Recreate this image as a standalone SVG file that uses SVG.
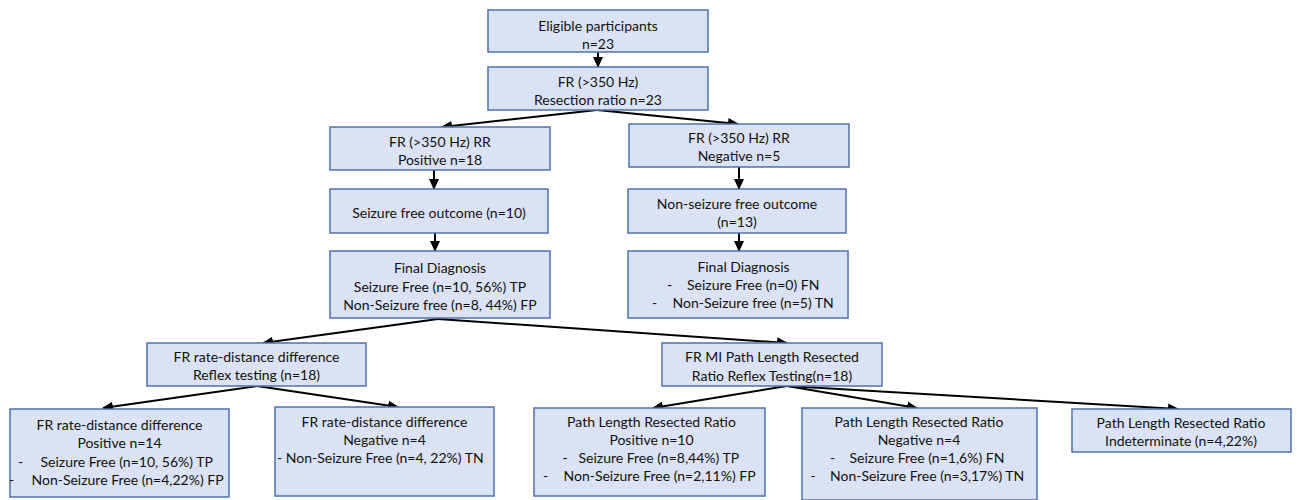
<svg xmlns="http://www.w3.org/2000/svg" width="1297" height="500" viewBox="0 0 1297 500">
<style>
.box{fill:#dae3f3;stroke:#4f70ad;stroke-width:1.5}
text{font-family:Lato,"Open Sans","Liberation Sans",sans-serif;font-size:14px;fill:#111;dominant-baseline:central}
.c{text-anchor:middle}
.con{stroke:#000;stroke-width:2;fill:none;marker-end:url(#ah)}
</style>
<defs>
<marker id="ah" markerUnits="userSpaceOnUse" markerWidth="11" markerHeight="10" refX="10" refY="5" orient="auto">
<path d="M0,0 L11,5 L0,10 z" fill="#000"/>
</marker>
</defs>
<rect width="1297" height="500" fill="#fff"/>
<g id="connectors">
<line class="con" x1="598" y1="52" x2="598" y2="67"/>
<line class="con" x1="597" y1="110" x2="442" y2="127"/>
<line class="con" x1="597" y1="110" x2="738" y2="124"/>
<line class="con" x1="434" y1="170" x2="434" y2="189"/>
<line class="con" x1="739" y1="167" x2="739" y2="189"/>
<line class="con" x1="435" y1="233" x2="435" y2="251"/>
<line class="con" x1="739" y1="233" x2="739" y2="251"/>
<line class="con" x1="438" y1="319" x2="263" y2="343"/>
<line class="con" x1="438" y1="319" x2="787" y2="343"/>
<line class="con" x1="257" y1="386" x2="103" y2="408"/>
<line class="con" x1="257" y1="386" x2="398" y2="407"/>
<line class="con" x1="787" y1="386" x2="653" y2="408"/>
<line class="con" x1="787" y1="386" x2="917" y2="408"/>
<line class="con" x1="787" y1="386" x2="1178" y2="409"/>
</g>
<g id="n1"><rect class="box" x="488" y="10" width="220" height="42"/>
<text class="c" x="598" y="25">Eligible participants</text><text class="c" x="598" y="43">n=23</text></g>
<g id="n2"><rect class="box" x="488" y="67" width="220" height="43"/>
<text class="c" x="598" y="81.5">FR (&gt;350 Hz)</text><text class="c" x="598" y="99.5">Resection ratio n=23</text></g>
<g id="n3"><rect class="box" x="330" y="127" width="220" height="43"/>
<text class="c" x="440" y="141.5">FR (&gt;350 Hz) RR</text><text class="c" x="440" y="159">Positive n=18</text></g>
<g id="n4"><rect class="box" x="629" y="124" width="220" height="43"/>
<text class="c" x="739" y="137">FR (&gt;350 Hz) RR</text><text class="c" x="739" y="155">Negative n=5</text></g>
<g id="n5"><rect class="box" x="330" y="189" width="218" height="44"/>
<text class="c" x="439" y="212">Seizure free outcome (n=10)</text></g>
<g id="n6"><rect class="box" x="628" y="189" width="218" height="44"/>
<text class="c" x="737" y="203">Non-seizure free outcome</text><text class="c" x="737" y="221">(n=13)</text></g>
<g id="n7"><rect class="box" x="330" y="251" width="220" height="67"/>
<text class="c" x="440" y="267">Final Diagnosis</text><text class="c" x="440" y="286">Seizure Free (n=10, 56%) TP</text><text class="c" x="440" y="304">Non-Seizure free (n=8, 44%) FP</text></g>
<g id="n8"><rect class="box" x="628" y="251" width="220" height="67"/>
<text class="c" x="743.5" y="266">Final Diagnosis</text>
<text y="283.5"><tspan x="667">-</tspan><tspan x="687">Seizure Free (n=0) FN</tspan></text>
<text y="301.5"><tspan x="652">-</tspan><tspan x="672.5">Non-Seizure free (n=5) TN</tspan></text></g>
<g id="n9"><rect class="box" x="147" y="343" width="219" height="43"/>
<text class="c" x="256.5" y="356">FR rate-distance difference</text><text class="c" x="256.5" y="374.5">Reflex testing (n=18)</text></g>
<g id="n10"><rect class="box" x="662" y="343" width="220" height="43"/>
<text class="c" x="772" y="356.5">FR MI Path Length Resected</text><text class="c" x="772" y="375">Ratio Reflex Testing(n=18)</text></g>
<g id="n11"><rect class="box" x="10" y="409" width="219" height="88"/>
<text class="c" x="119.5" y="424">FR rate-distance difference</text><text class="c" x="119.5" y="442.5">Positive n=14</text>
<text y="461"><tspan x="18">-</tspan><tspan x="40.5">Seizure Free (n=10, 56%) TP</tspan></text>
<text y="479"><tspan x="9">-</tspan><tspan x="31.5">Non-Seizure Free (n=4,22%) FP</tspan></text></g>
<g id="n12"><rect class="box" x="275" y="407" width="219" height="89"/>
<text class="c" x="384.5" y="421">FR rate-distance difference</text><text class="c" x="384.5" y="439">Negative n=4</text>
<text x="277" y="457">- Non-Seizure Free (n=4, 22%) TN</text></g>
<g id="n13"><rect class="box" x="534" y="408" width="231" height="88"/>
<text class="c" x="651.5" y="421">Path Length Resected Ratio</text><text class="c" x="651.5" y="439">Positive n=10</text>
<text y="457"><tspan x="562.5">-</tspan><tspan x="578.5">Seizure Free (n=8,44%) TP</tspan></text>
<text y="475"><tspan x="543">-</tspan><tspan x="563.5">Non-Seizure Free (n=2,11%) FP</tspan></text></g>
<g id="n14"><rect class="box" x="802" y="408" width="235" height="92"/>
<text class="c" x="919" y="421">Path Length Resected Ratio</text><text class="c" x="919" y="439">Negative n=4</text>
<text y="457"><tspan x="830">-</tspan><tspan x="849.5">Seizure Free (n=1,6%) FN</tspan></text>
<text y="475"><tspan x="810.5">-</tspan><tspan x="830">Non-Seizure Free (n=3,17%) TN</tspan></text></g>
<g id="n15"><rect class="box" x="1072" y="409" width="219" height="43"/>
<text class="c" x="1181" y="422.5">Path Length Resected Ratio</text><text class="c" x="1181" y="440">Indeterminate (n=4,22%)</text></g>
</svg>
